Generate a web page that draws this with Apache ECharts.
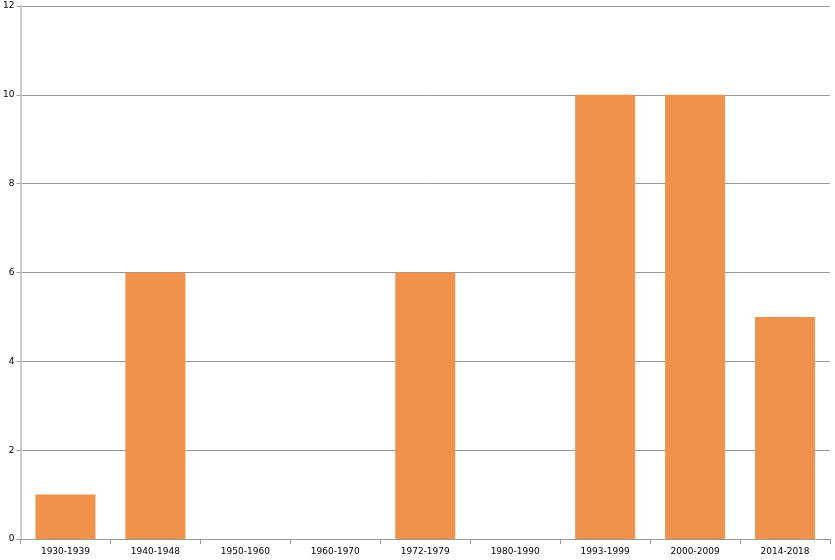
<!DOCTYPE html>
<html><head><meta charset="utf-8">
<script src="https://cdn.jsdelivr.net/npm/echarts@6/dist/echarts.min.js"></script>
<style>html,body{margin:0;padding:0;background:#fff}#c{width:835px;height:560px}</style>
</head><body><div id="c"></div>
<script>
const categories = ['1930-1939','1940-1948','1950-1960','1960-1970','1972-1979','1980-1990','1993-1999','2000-2009','2014-2018'];
const values = [1, 6, 0, 0, 6, 0, 10, 10, 5];
const yTicks = {min: 0, max: 12, interval: 2};

const chart = echarts.init(document.getElementById('c'), null, {renderer: 'canvas'});
chart.setOption({
  animation: false,
  grid: {left: 20, right: 5, top: 6, bottom: 21, containLabel: false},
  xAxis: {
    type: 'category', data: categories,
    axisLine: {lineStyle: {color: '#999', width: 1}},
    axisTick: {show: true, length: 5, alignWithLabel: false, lineStyle: {color: '#999'}},
    axisLabel: {color: '#000', fontSize: 9, fontFamily: 'DejaVu Sans', margin: 8},
    splitLine: {show: false}
  },
  yAxis: {
    type: 'value', min: yTicks.min, max: yTicks.max, interval: yTicks.interval,
    axisLine: {show: true, lineStyle: {color: '#ccc', width: 2}},
    axisTick: {show: true, length: 4, lineStyle: {color: '#999'}},
    axisLabel: {color: '#000', fontSize: 9, fontFamily: 'DejaVu Sans', margin: 6},
    splitLine: {show: true, lineStyle: {color: '#999', width: 1}}
  },
  series: [{
    type: 'bar', data: values, barCategoryGap: '33.3%',
    itemStyle: {color: '#F0924B'}
  }]
});
</script></body></html>
